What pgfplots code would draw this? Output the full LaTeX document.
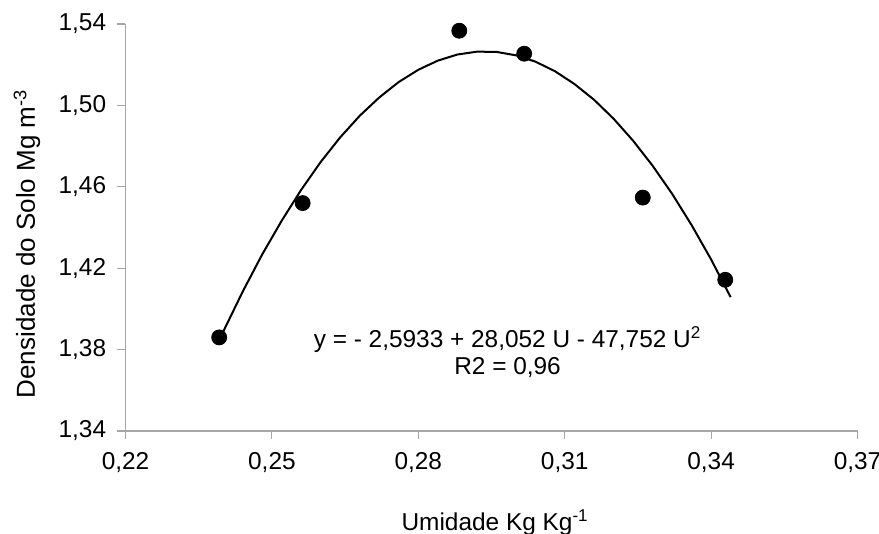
\documentclass[border=0pt,12pt]{standalone}
\usepackage{fontspec}
\setmainfont{Liberation Sans}
\usepackage{pgfplots}
\pgfplotsset{compat=1.18}
\begin{document}
\begin{tikzpicture}
\begin{axis}[
  name=ax,
  scale only axis,
  width=366pt, height=203.5pt,
  xmin=0.22, xmax=0.37, ymin=1.34, ymax=1.54,
  xtick={0.22,0.25,0.28,0.31,0.34,0.37},
  ytick={1.34,1.38,1.42,1.46,1.50,1.54},
  scaled ticks=false,
  axis x line*=bottom, axis y line*=left,
  axis line style={black!35, line width=0.6pt},
  tick style={black!35, line width=0.6pt},
  tick align=outside, major tick length=4pt,
  tick label style={font=\fontsize{12.2}{14}\selectfont},
  label style={font=\fontsize{12.2}{14}\selectfont},
  xticklabel style={yshift=-2.5pt,/pgf/number format/.cd,fixed,fixed zerofill,precision=2,use comma,assume math mode=true},
  yticklabel style={xshift=-1.5pt,/pgf/number format/.cd,fixed,fixed zerofill,precision=2,use comma,assume math mode=true},
  xlabel={Umidade Kg Kg\textsuperscript{-1}},
  ylabel={Densidade do Solo Mg m\textsuperscript{-3}},
  xlabel style={at={(axis description cs:0.505,-0.226)}, anchor=center},
  ylabel style={at={(axis description cs:-0.1346,0.46)}, anchor=center, font=\fontsize{13}{15}\selectfont},
  clip=false,
]
\addplot[black, line width=1pt] coordinates {
(0.240,1.3887) (0.244,1.4084) (0.248,1.4267) (0.252,1.4433) (0.256,1.4585)
(0.260,1.4722) (0.264,1.4843) (0.268,1.4949) (0.272,1.5039) (0.276,1.5115)
(0.280,1.5175) (0.284,1.5220) (0.288,1.5250) (0.292,1.5264) (0.296,1.5263)
(0.300,1.5246) (0.304,1.5215) (0.308,1.5168) (0.312,1.5105) (0.316,1.5028)
(0.320,1.4935) (0.324,1.4827) (0.328,1.4704) (0.332,1.4566) (0.336,1.4412)
(0.340,1.4243) (0.344,1.4058)
};
\addplot[only marks, mark=*, mark size=3.75pt, black] coordinates {
(0.2392,1.386) (0.2563,1.452) (0.2884,1.5367) (0.3017,1.5254) (0.3260,1.4547) (0.3429,1.4143)
};
\node[align=center, font=\fontsize{12.2}{13.5}\selectfont] at (axis cs:0.2983,1.3789)
  {y = - 2,5933 + 28,052 U - 47,752 U\textsuperscript{2}\\R2 = 0,96};
\end{axis}
\pgfresetboundingbox
\path[use as bounding box] ([xshift=-62.75pt,yshift=-51.5pt]ax.south west) rectangle ([xshift=10.75pt,yshift=12pt]ax.north east);
\end{tikzpicture}
\end{document}
